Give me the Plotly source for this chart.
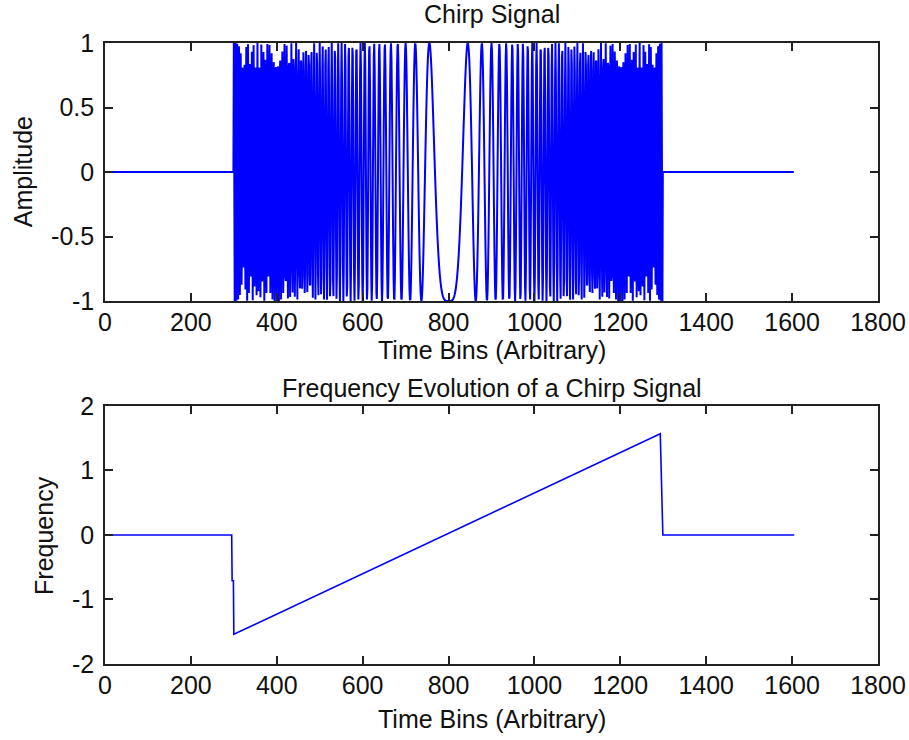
import numpy as np
import plotly.graph_objects as go
from plotly.subplots import make_subplots

# ---- data ----
# frequency evolution keypoints (bottom panel)
freq_x = [0, 295, 296, 299, 300, 1293, 1299, 1605]
freq_y = [0.0, 0.0, -0.71, -0.71, -1.54, 1.57, 0.0, 0.0]

# chirp parameters (top panel)
n_samples = 1605
chirp_start = 300
chirp_stop = 1300
f_start = -1.5708
f_end = 1.5708

x_ticks = [0, 200, 400, 600, 800, 1000, 1200, 1400, 1600, 1800]
amp_ticks = [-1, -0.5, 0, 0.5, 1]
amp_tick_text = ["-1", "-0.5", "0", "0.5", "1"]
freq_ticks = [-2, -1, 0, 1, 2]
freq_tick_text = ["-2", "-1", "0", "1", "2"]

# derive the chirp samples from the linear instantaneous frequency
n = np.arange(n_samples)
m = (n >= chirp_start) & (n < chirp_stop)
t = (n - chirp_start).astype(float)
L = chirp_stop - chirp_start
phase = f_start * t + (f_end - f_start) / (2 * L) * t ** 2
signal = np.where(m, np.cos(phase), 0.0)

FONT = "Liberation Sans, Arial, sans-serif"
FS = 25

fig = make_subplots(rows=2, cols=1)
fig.add_trace(go.Scatter(x=n, y=signal, mode="lines",
                         line=dict(color="#0000ff", width=2, simplify=False),
                         showlegend=False), row=1, col=1)
fig.add_trace(go.Scatter(x=freq_x, y=freq_y, mode="lines",
                         line=dict(color="#0000ff", width=1.6),
                         showlegend=False), row=2, col=1)

axis_common = dict(showline=True, linecolor="#222222", linewidth=1.6, mirror="ticks",
                   ticks="inside", ticklen=8, tickwidth=1.6, tickcolor="#222222",
                   showgrid=False, zeroline=False, automargin=False,
                   tickfont=dict(family=FONT, size=FS, color="#111111"))

fig.update_xaxes(range=[0, 1800], tickvals=x_ticks, ticklabelstandoff=-2, **axis_common)
fig.update_yaxes(ticklabelstandoff=4, **axis_common)
fig.update_yaxes(range=[-1, 1], tickvals=amp_ticks, ticktext=amp_tick_text, row=1, col=1)
fig.update_yaxes(range=[-2, 2], tickvals=freq_ticks, ticktext=freq_tick_text, row=2, col=1)

fig.update_layout(
    width=909, height=740,
    margin=dict(l=105, r=31, t=43, b=76),
    paper_bgcolor="white", plot_bgcolor="white",
    xaxis=dict(domain=[0, 1]), yaxis=dict(domain=[0.5845, 1.0]),
    xaxis2=dict(domain=[0, 1]), yaxis2=dict(domain=[0.0, 0.4155]),
)

def ann(text, x, y, angle=0):
    fig.add_annotation(text=text, x=x, y=y, xref="paper", yref="paper",
                       showarrow=False, textangle=angle,
                       xanchor="center", yanchor="middle",
                       font=dict(family=FONT, size=FS, color="#111111"))

ann("Chirp Signal", 0.5, 1.047)
ann("Time Bins (Arbitrary)", 0.5, 0.506)
ann("Frequency Evolution of a Chirp Signal", 0.5, 0.444)
ann("Time Bins (Arbitrary)", 0.5, -0.088)
ann("Amplitude", -0.106, 0.792, -90)
ann("Frequency", -0.079, 0.2077, -90)

fig.write_html("out.html", config={"displayModeBar": False},
               post_script="document.body.style.margin='0';document.body.style.overflow='hidden';")
